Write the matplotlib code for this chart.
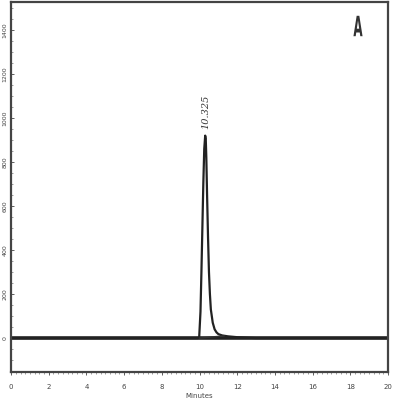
import matplotlib.pyplot as plt
from matplotlib.ticker import MultipleLocator
from matplotlib.textpath import TextPath
from matplotlib.patches import PathPatch
from matplotlib.transforms import Affine2D

# Chromatogram trace (minutes, signal)
times = [0.0, 5.0, 9.9, 9.98, 10.05, 10.1, 10.15, 10.2, 10.25, 10.3, 10.33,
         10.36, 10.4, 10.45, 10.5, 10.55, 10.6, 10.7, 10.8, 10.9, 11.0,
         11.2, 11.5, 12.0, 12.5, 13.0, 16.0, 20.0]
signal = [0, 0, 0, 2, 120, 300, 500, 700, 860, 920, 905,
          820, 650, 460, 300, 200, 130, 70, 40, 26, 18,
          12, 8, 4, 2, 0, 0, 0]

# integration baseline under the peak
base_t = [10.0, 11.3]
base_y = [0, 10]

peak_label = "10.325"
peak_time = 10.325
panel = "A"

fig = plt.figure(figsize=(4.11, 4.09), dpi=100)
ax = fig.add_axes([0.027, 0.09, 0.917, 0.905])

ax.plot(times, signal, color="#222222", linewidth=1.6)
ax.axhline(0, color="#222222", linewidth=2.6, zorder=1)
ax.plot(base_t, base_y, color="#333333", linewidth=1.0)

ax.set_xlim(0, 20)
ax.set_ylim(-155, 1527)

ax.xaxis.set_major_locator(MultipleLocator(2))
ax.xaxis.set_minor_locator(MultipleLocator(0.25))
ax.yaxis.set_major_locator(MultipleLocator(200))
ax.yaxis.set_minor_locator(MultipleLocator(50))

ax.tick_params(axis="x", which="major", length=2.5, width=0.6,
               labelsize=5, colors="#444444", pad=6)
ax.tick_params(axis="x", which="minor", length=1.2, width=0.4,
               colors="#555555")
ax.tick_params(axis="y", which="major", direction="in", length=2.5,
               width=0.6, labelsize=4.5, colors="#444444", pad=2.5)
ax.tick_params(axis="y", which="minor", direction="in", length=1.2,
               width=0.4, colors="#555555")
for lbl in ax.get_yticklabels():
    lbl.set_rotation(90)
    lbl.set_va("center")

for side in ["top", "right", "bottom", "left"]:
    ax.spines[side].set_linewidth(1.6)
    ax.spines[side].set_color("#444444")

ax.set_xlabel("Minutes", fontsize=5, color="#444444", labelpad=2)

ax.text(peak_time, 950, peak_label, rotation=90, ha="center", va="bottom",
        fontsize=7, style="italic", family="DejaVu Serif", color="#333333")

# narrow bold panel letter, drawn in pixel space
tp = TextPath((0, 0), panel, size=14, prop={"weight": "bold"})
bb = tp.get_extents()
tr = (Affine2D().translate(-bb.x0 - bb.width / 2, -bb.y0 - bb.height / 2)
      .scale(0.85, 2.0).translate(358, 409 - 26))
ax.add_patch(PathPatch(tr.transform_path(tp), facecolor="#333333",
                       edgecolor="none", transform=None, clip_on=False))

fig.savefig("out.png", dpi=100)
